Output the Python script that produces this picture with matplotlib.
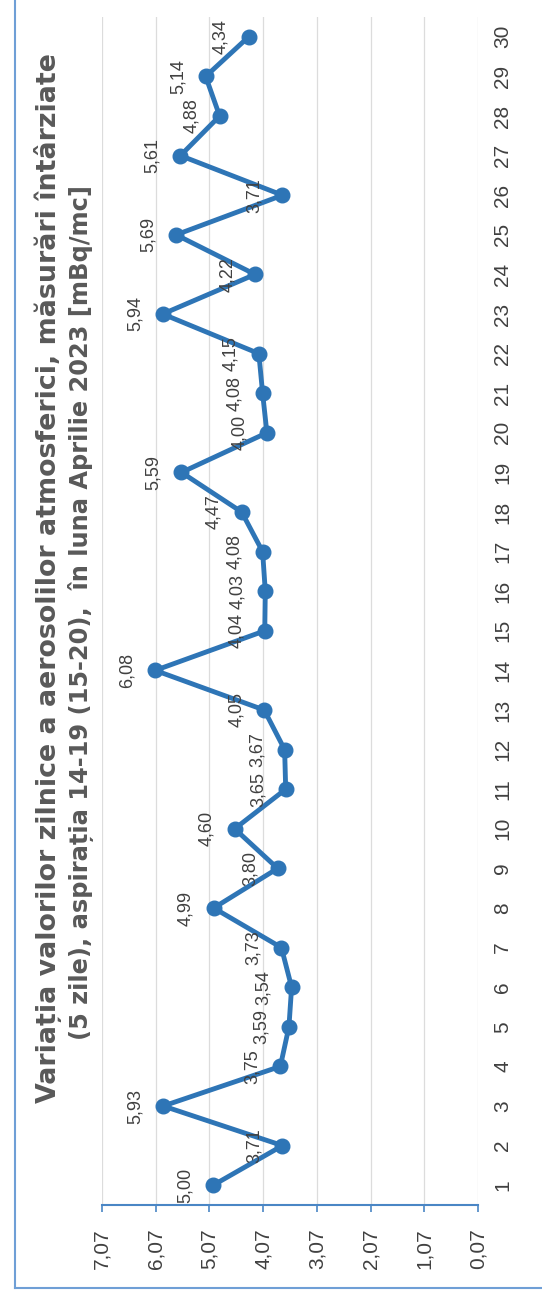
import numpy as np
import matplotlib
matplotlib.use("Agg")
import matplotlib.pyplot as plt
from matplotlib.lines import Line2D

plt.rcParams['font.family'] = ['Liberation Sans', 'DejaVu Sans']

zile = list(range(1, 31))
valori = [5.00, 3.71, 5.93, 3.75, 3.59, 3.54, 3.73, 4.99, 3.80, 4.60,
          3.65, 3.67, 4.05, 6.08, 4.04, 4.03, 4.08, 4.47, 5.59, 4.00,
          4.08, 4.15, 5.94, 4.22, 5.69, 3.71, 5.61, 4.88, 5.14, 4.34]
ticks_val = [0.07, 1.07, 2.07, 3.07, 4.07, 5.07, 6.07, 7.07]
titlu_1 = "Variația valorilor zilnice a aerosolilor atmosferici, măsurări întârziate"
titlu_2 = "(5 zile), aspirația 14-19 (15-20),  în luna Aprilie 2023 [mBq/mc]"

W, H = 542, 1303
fig = plt.figure(figsize=(W / 100, H / 100), dpi=100)
fig.patch.set_facecolor('white')

# axa pusa "culcat": valorile pe orizontala (inversat), zilele pe verticala
ax = fig.add_axes([102 / W, (H - 1205) / H, (478 - 102) / W, (1205 - 17) / H])
ax.plot(valori, zile, color='#2e75b6', lw=3.5, marker='o', ms=10.5,
        solid_joinstyle='round', zorder=3)

for z, v in zip(zile, valori):
    ax.annotate(f"{v:.2f}".replace('.', ','), (v, z), xytext=(-20, 0),
                textcoords='offset points', rotation=90, ha='center',
                va='center', fontsize=13, color='#404040', zorder=4)

ax.set_xlim(7.07, 0.07)
ax.set_ylim(0.5, 30.5)
ax.set_xticks(ticks_val)
ax.set_xticklabels([f"{t:.2f}".replace('.', ',') for t in ticks_val],
                   rotation=90, fontsize=15, color='#404040')
ax.set_yticks(zile)
ax.set_yticklabels([str(z) for z in zile], rotation=90, fontsize=15,
                   color='#404040', va='center')
ax.yaxis.tick_right()
ax.tick_params(axis='y', length=0, pad=11)
ax.tick_params(axis='x', length=5, width=1.2, color='#4a86c5', pad=12,
               direction='out')

ax.grid(axis='x', color='#dcdcdc', lw=0.9)
ax.set_axisbelow(True)
for s in ['top', 'left', 'right']:
    ax.spines[s].set_visible(False)
ax.spines['bottom'].set_color('#4a86c5')
ax.spines['bottom'].set_linewidth(1.5)

# titlul, pe doua randuri
fig.text(48 / W, (H - 578) / H, titlu_1, rotation=90, ha='center', va='center',
         fontsize=19.4, fontweight='bold', color='#595959', family='DejaVu Sans')
fig.text(81 / W, (H - 612) / H, titlu_2, rotation=90, ha='center', va='center',
         fontsize=17.4, fontweight='bold', color='#595959', family='DejaVu Sans')

# chenarul graficului
fig.add_artist(Line2D([15 / W, 15 / W], [(H - 1288) / H, 1.0],
                      transform=fig.transFigure, color='#6f9fd6', lw=1.5))
fig.add_artist(Line2D([15 / W, 1.0], [(H - 1288) / H, (H - 1288) / H],
                      transform=fig.transFigure, color='#6f9fd6', lw=1.5))

fig.savefig('out.png', dpi=100)
